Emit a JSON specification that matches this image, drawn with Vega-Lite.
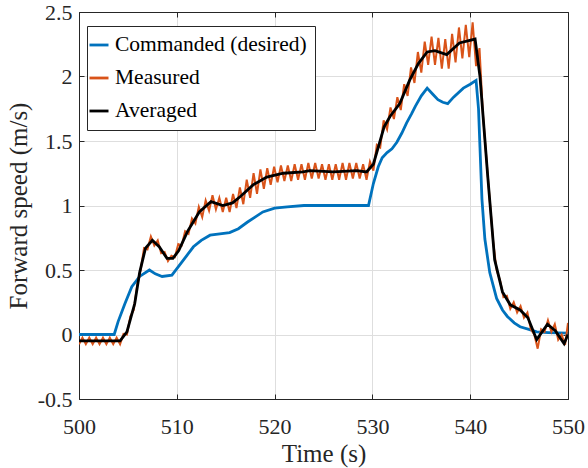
{
  "$schema": "https://vega.github.io/schema/vega-lite/v6.json",
  "autosize": {"type": "none"},
  "width": 489,
  "height": 387,
  "padding": {"left": 79, "top": 12, "right": 20, "bottom": 69},
  "background": "white",
  "config": {
    "view": {"stroke": null},
    "font": "Liberation Serif",
    "style": {
      "guide-label": {"font": "Liberation Serif"},
      "guide-title": {"font": "Liberation Serif"}
    },
    "axis": {
      "labelFont": "Liberation Serif",
      "titleFont": "Liberation Serif",
      "labelColor": "#262626",
      "titleColor": "#262626",
      "domainColor": "#262626",
      "tickColor": "#262626",
      "titleFontWeight": "normal"
    },
    "legend": {
      "labelFont": "Liberation Serif"
    }
  },
  "data": {
    "values": [
      {"s":"c","t":500,"v":0},{"s":"c","t":503.6,"v":0},{"s":"c","t":504.0,"v":0.1},{"s":"c","t":504.7,"v":0.24},{"s":"c","t":505.4,"v":0.37},{"s":"c","t":506.2,"v":0.45},{"s":"c","t":507.2,"v":0.5},{"s":"c","t":507.8,"v":0.47},{"s":"c","t":508.5,"v":0.45},{"s":"c","t":509.5,"v":0.46},{"s":"c","t":510.3,"v":0.54},{"s":"c","t":511.0,"v":0.61},{"s":"c","t":511.7,"v":0.68},{"s":"c","t":512.5,"v":0.73},{"s":"c","t":513.4,"v":0.77},{"s":"c","t":514.4,"v":0.78},{"s":"c","t":515.4,"v":0.79},{"s":"c","t":516.3,"v":0.82},{"s":"c","t":517.2,"v":0.87},{"s":"c","t":518.0,"v":0.91},{"s":"c","t":518.8,"v":0.95},{"s":"c","t":520.0,"v":0.98},{"s":"c","t":521.3,"v":0.99},{"s":"c","t":523,"v":1.0},{"s":"c","t":529.6,"v":1.0},{"s":"c","t":530.1,"v":1.17},{"s":"c","t":530.6,"v":1.3},{"s":"c","t":531.0,"v":1.37},{"s":"c","t":531.5,"v":1.41},{"s":"c","t":532.0,"v":1.44},{"s":"c","t":532.5,"v":1.49},{"s":"c","t":533.0,"v":1.56},{"s":"c","t":533.5,"v":1.64},{"s":"c","t":534.0,"v":1.71},{"s":"c","t":534.4,"v":1.77},{"s":"c","t":535.0,"v":1.85},{"s":"c","t":535.6,"v":1.91},{"s":"c","t":536.2,"v":1.86},{"s":"c","t":536.7,"v":1.82},{"s":"c","t":537.2,"v":1.8},{"s":"c","t":537.7,"v":1.79},{"s":"c","t":538.3,"v":1.84},{"s":"c","t":539.3,"v":1.91},{"s":"c","t":540.0,"v":1.94},{"s":"c","t":540.6,"v":1.97},{"s":"c","t":540.85,"v":1.75},{"s":"c","t":541.0,"v":1.45},{"s":"c","t":541.2,"v":1.05},{"s":"c","t":541.5,"v":0.74},{"s":"c","t":542.0,"v":0.48},{"s":"c","t":542.7,"v":0.28},{"s":"c","t":543.3,"v":0.19},{"s":"c","t":543.8,"v":0.14},{"s":"c","t":544.5,"v":0.09},{"s":"c","t":545.1,"v":0.06},{"s":"c","t":546.0,"v":0.04},{"s":"c","t":546.8,"v":0.02},{"s":"c","t":548,"v":0.015},{"s":"c","t":550,"v":0.01},
      {"s":"m","t":500.00,"v":-0.075},{"s":"m","t":500.35,"v":-0.025},{"s":"m","t":500.70,"v":-0.075},{"s":"m","t":501.05,"v":-0.025},{"s":"m","t":501.40,"v":-0.075},{"s":"m","t":501.75,"v":-0.025},{"s":"m","t":502.10,"v":-0.075},{"s":"m","t":502.45,"v":-0.025},{"s":"m","t":502.80,"v":-0.075},{"s":"m","t":503.15,"v":-0.025},{"s":"m","t":503.50,"v":-0.075},{"s":"m","t":503.85,"v":-0.025},{"s":"m","t":504.20,"v":-0.075},{"s":"m","t":504.55,"v":0.005},{"s":"m","t":504.90,"v":0.0},{"s":"m","t":505.25,"v":0.14},{"s":"m","t":505.60,"v":0.19},{"s":"m","t":505.95,"v":0.38},{"s":"m","t":506.30,"v":0.50},{"s":"m","t":506.65,"v":0.67},{"s":"m","t":507.00,"v":0.66},{"s":"m","t":507.35,"v":0.76},{"s":"m","t":507.70,"v":0.69},{"s":"m","t":508.05,"v":0.73},{"s":"m","t":508.40,"v":0.63},{"s":"m","t":508.75,"v":0.64},{"s":"m","t":509.10,"v":0.57},{"s":"m","t":509.45,"v":0.61},{"s":"m","t":509.80,"v":0.60},{"s":"m","t":510.15,"v":0.70},{"s":"m","t":510.50,"v":0.69},{"s":"m","t":510.85,"v":0.80},{"s":"m","t":511.20,"v":0.78},{"s":"m","t":511.55,"v":0.90},{"s":"m","t":511.90,"v":0.86},{"s":"m","t":512.25,"v":0.99},{"s":"m","t":512.60,"v":0.91},{"s":"m","t":512.95,"v":1.04},{"s":"m","t":513.30,"v":0.96},{"s":"m","t":513.65,"v":1.08},{"s":"m","t":514.00,"v":0.97},{"s":"m","t":514.35,"v":1.06},{"s":"m","t":514.70,"v":0.95},{"s":"m","t":515.05,"v":1.06},{"s":"m","t":515.40,"v":0.95},{"s":"m","t":515.75,"v":1.09},{"s":"m","t":516.10,"v":0.98},{"s":"m","t":516.45,"v":1.14},{"s":"m","t":516.80,"v":1.01},{"s":"m","t":517.15,"v":1.20},{"s":"m","t":517.50,"v":1.06},{"s":"m","t":517.85,"v":1.25},{"s":"m","t":518.20,"v":1.09},{"s":"m","t":518.55,"v":1.28},{"s":"m","t":518.90,"v":1.13},{"s":"m","t":519.25,"v":1.29},{"s":"m","t":519.60,"v":1.16},{"s":"m","t":519.95,"v":1.30},{"s":"m","t":520.30,"v":1.18},{"s":"m","t":520.65,"v":1.31},{"s":"m","t":521.00,"v":1.19},{"s":"m","t":521.35,"v":1.31},{"s":"m","t":521.70,"v":1.19},{"s":"m","t":522.05,"v":1.32},{"s":"m","t":522.40,"v":1.20},{"s":"m","t":522.75,"v":1.32},{"s":"m","t":523.10,"v":1.20},{"s":"m","t":523.45,"v":1.33},{"s":"m","t":523.80,"v":1.21},{"s":"m","t":524.15,"v":1.33},{"s":"m","t":524.50,"v":1.21},{"s":"m","t":524.85,"v":1.32},{"s":"m","t":525.20,"v":1.20},{"s":"m","t":525.55,"v":1.32},{"s":"m","t":525.90,"v":1.20},{"s":"m","t":526.25,"v":1.32},{"s":"m","t":526.60,"v":1.20},{"s":"m","t":526.95,"v":1.33},{"s":"m","t":527.30,"v":1.20},{"s":"m","t":527.65,"v":1.33},{"s":"m","t":528.00,"v":1.21},{"s":"m","t":528.35,"v":1.33},{"s":"m","t":528.70,"v":1.21},{"s":"m","t":529.05,"v":1.32},{"s":"m","t":529.40,"v":1.20},{"s":"m","t":529.75,"v":1.34},{"s":"m","t":530.10,"v":1.27},{"s":"m","t":530.45,"v":1.47},{"s":"m","t":530.80,"v":1.45},{"s":"m","t":531.15,"v":1.66},{"s":"m","t":531.50,"v":1.59},{"s":"m","t":531.85,"v":1.76},{"s":"m","t":532.20,"v":1.67},{"s":"m","t":532.55,"v":1.84},{"s":"m","t":532.90,"v":1.74},{"s":"m","t":533.25,"v":1.94},{"s":"m","t":533.60,"v":1.85},{"s":"m","t":533.95,"v":2.07},{"s":"m","t":534.30,"v":1.95},{"s":"m","t":534.65,"v":2.19},{"s":"m","t":535.00,"v":2.03},{"s":"m","t":535.35,"v":2.27},{"s":"m","t":535.70,"v":2.09},{"s":"m","t":536.05,"v":2.31},{"s":"m","t":536.40,"v":2.09},{"s":"m","t":536.75,"v":2.30},{"s":"m","t":537.10,"v":2.06},{"s":"m","t":537.45,"v":2.29},{"s":"m","t":537.80,"v":2.06},{"s":"m","t":538.15,"v":2.33},{"s":"m","t":538.50,"v":2.11},{"s":"m","t":538.85,"v":2.38},{"s":"m","t":539.20,"v":2.14},{"s":"m","t":539.55,"v":2.40},{"s":"m","t":539.90,"v":2.15},{"s":"m","t":540.25,"v":2.42},{"s":"m","t":540.60,"v":2.08},{"s":"m","t":540.95,"v":2.22},{"s":"m","t":541.30,"v":1.71},{"s":"m","t":541.65,"v":1.37},{"s":"m","t":542.00,"v":1.04},{"s":"m","t":542.35,"v":0.72},{"s":"m","t":542.70,"v":0.50},{"s":"m","t":543.05,"v":0.42},{"s":"m","t":543.40,"v":0.29},{"s":"m","t":543.75,"v":0.30},{"s":"m","t":544.10,"v":0.20},{"s":"m","t":544.45,"v":0.25},{"s":"m","t":544.80,"v":0.17},{"s":"m","t":545.15,"v":0.22},{"s":"m","t":545.50,"v":0.13},{"s":"m","t":545.85,"v":0.17},{"s":"m","t":546.20,"v":0.04},{"s":"m","t":546.55,"v":0.0},{"s":"m","t":546.90,"v":-0.11},{"s":"m","t":547.25,"v":0.04},{"s":"m","t":547.60,"v":0.02},{"s":"m","t":547.95,"v":0.11},{"s":"m","t":548.30,"v":0.02},{"s":"m","t":548.65,"v":0.08},{"s":"m","t":549.00,"v":-0.04},{"s":"m","t":549.35,"v":0.0},{"s":"m","t":549.70,"v":-0.08},{"s":"m","t":550.00,"v":0.09},
      {"s":"a","t":500,"v":-0.05},{"s":"a","t":504.2,"v":-0.05},{"s":"a","t":504.9,"v":0.02},{"s":"a","t":505.7,"v":0.24},{"s":"a","t":506.2,"v":0.48},{"s":"a","t":506.8,"v":0.67},{"s":"a","t":507.5,"v":0.73},{"s":"a","t":508.2,"v":0.68},{"s":"a","t":509.0,"v":0.59},{"s":"a","t":509.6,"v":0.59},{"s":"a","t":510.2,"v":0.65},{"s":"a","t":511.1,"v":0.8},{"s":"a","t":512.3,"v":0.95},{"s":"a","t":513.5,"v":1.03},{"s":"a","t":514.7,"v":1.0},{"s":"a","t":515.7,"v":1.02},{"s":"a","t":516.5,"v":1.07},{"s":"a","t":517.8,"v":1.16},{"s":"a","t":519.2,"v":1.22},{"s":"a","t":520.9,"v":1.25},{"s":"a","t":522.9,"v":1.26},{"s":"a","t":523.6,"v":1.27},{"s":"a","t":526.0,"v":1.26},{"s":"a","t":528.4,"v":1.27},{"s":"a","t":529.4,"v":1.26},{"s":"a","t":530.1,"v":1.32},{"s":"a","t":531.2,"v":1.61},{"s":"a","t":531.8,"v":1.69},{"s":"a","t":532.8,"v":1.79},{"s":"a","t":533.8,"v":1.97},{"s":"a","t":534.7,"v":2.1},{"s":"a","t":535.6,"v":2.19},{"s":"a","t":536.4,"v":2.2},{"s":"a","t":537.6,"v":2.17},{"s":"a","t":538.9,"v":2.26},{"s":"a","t":540.5,"v":2.29},{"s":"a","t":541.0,"v":2.0},{"s":"a","t":541.8,"v":1.22},{"s":"a","t":542.5,"v":0.58},{"s":"a","t":543.3,"v":0.33},{"s":"a","t":544.1,"v":0.23},{"s":"a","t":545.1,"v":0.19},{"s":"a","t":545.9,"v":0.13},{"s":"a","t":546.8,"v":-0.04},{"s":"a","t":547.9,"v":0.08},{"s":"a","t":548.7,"v":0.03},{"s":"a","t":549.6,"v":-0.07},{"s":"a","t":550,"v":0.0}
    ]
  },
  "resolve": {"axis": {"x": "independent", "y": "independent"}},
  "layer": [
    {
      "layer": [
        {
          "transform": [{"filter": "datum.s === 'c'"}],
          "mark": {"type": "line", "strokeWidth": 2.8, "clip": true},
          "encoding": {
            "x": {"field": "t", "type": "quantitative"},
            "y": {"field": "v", "type": "quantitative"},
            "color": {"field": "s", "type": "nominal"}
          }
        },
        {
          "transform": [{"filter": "datum.s === 'm'"}],
          "mark": {"type": "line", "strokeWidth": 2, "clip": true},
          "encoding": {
            "x": {"field": "t", "type": "quantitative"},
            "y": {"field": "v", "type": "quantitative"},
            "color": {"field": "s", "type": "nominal"}
          }
        },
        {
          "transform": [{"filter": "datum.s === 'a'"}],
          "mark": {"type": "line", "strokeWidth": 2.8, "clip": true},
          "encoding": {
            "x": {"field": "t", "type": "quantitative"},
            "y": {"field": "v", "type": "quantitative"},
            "color": {"field": "s", "type": "nominal"}
          }
        }
      ],
      "encoding": {
        "x": {
          "field": "t", "type": "quantitative",
          "scale": {"domain": [500, 550], "nice": false, "zero": false},
          "axis": {
            "orient": "bottom",
            "title": "Time (s)", "titleFontSize": 25, "titlePadding": 4, "titleFont": "Liberation Serif",
            "values": [500, 510, 520, 530, 540, 550],
            "labelFont": "Liberation Serif",
            "labelFontSize": 22, "labelFlush": false, "labelPadding": 22,
            "tickSize": -5, "grid": true, "gridColor": "#dedede", "gridWidth": 1
          }
        },
        "y": {
          "field": "v", "type": "quantitative",
          "scale": {"domain": [-0.5, 2.5], "nice": false, "zero": false},
          "axis": {
            "orient": "left",
            "title": "Forward speed (m/s)", "titleFontSize": 25, "titlePadding": 6, "titleFont": "Liberation Serif",
            "values": [-0.5, 0, 0.5, 1, 1.5, 2, 2.5],
            "labelExpr": "datum.value < 0 ? '-' + format(-datum.value, '~g') : format(datum.value, '~g')",
            "labelFont": "Liberation Serif",
            "labelFontSize": 22, "labelFlush": false, "labelOverlap": false, "labelPadding": 12,
            "tickSize": -5, "grid": true, "gridColor": "#dedede", "gridWidth": 1
          }
        },
        "color": {
          "field": "s", "type": "nominal",
          "scale": {"domain": ["c", "m", "a"], "range": ["#0072BD", "#D95319", "#000000"]},
          "legend": {
            "orient": "none", "legendX": 8, "legendY": 14,
            "title": null,
            "labelExpr": "datum.value === 'c' ? 'Commanded (desired)' : datum.value === 'm' ? 'Measured' : 'Averaged'",
            "fillColor": "white", "strokeColor": "#262626", "padding": 8,
            "symbolType": "stroke", "symbolSize": 361, "symbolStrokeWidth": 2.8,
            "symbolOffset": -7,
            "labelFont": "Liberation Serif",
            "labelFontSize": 21.5, "labelColor": "#000000", "labelLimit": 400,
            "rowPadding": 11, "labelOffset": 5
          }
        }
      }
    },
    {
      "transform": [{"filter": "datum.s === 'a'"}],
      "mark": {"type": "line", "opacity": 0},
      "encoding": {
        "x": {
          "field": "t", "type": "quantitative",
          "scale": {"domain": [500, 550], "nice": false, "zero": false},
          "axis": {"orient": "top", "title": null, "labels": false, "values": [500, 510, 520, 530, 540, 550], "tickSize": -5, "grid": false}
        },
        "y": {
          "field": "v", "type": "quantitative",
          "scale": {"domain": [-0.5, 2.5], "nice": false, "zero": false},
          "axis": {"orient": "right", "title": null, "labels": false, "values": [-0.5, 0, 0.5, 1, 1.5, 2, 2.5], "tickSize": -5, "grid": false}
        }
      }
    }
  ]
}
